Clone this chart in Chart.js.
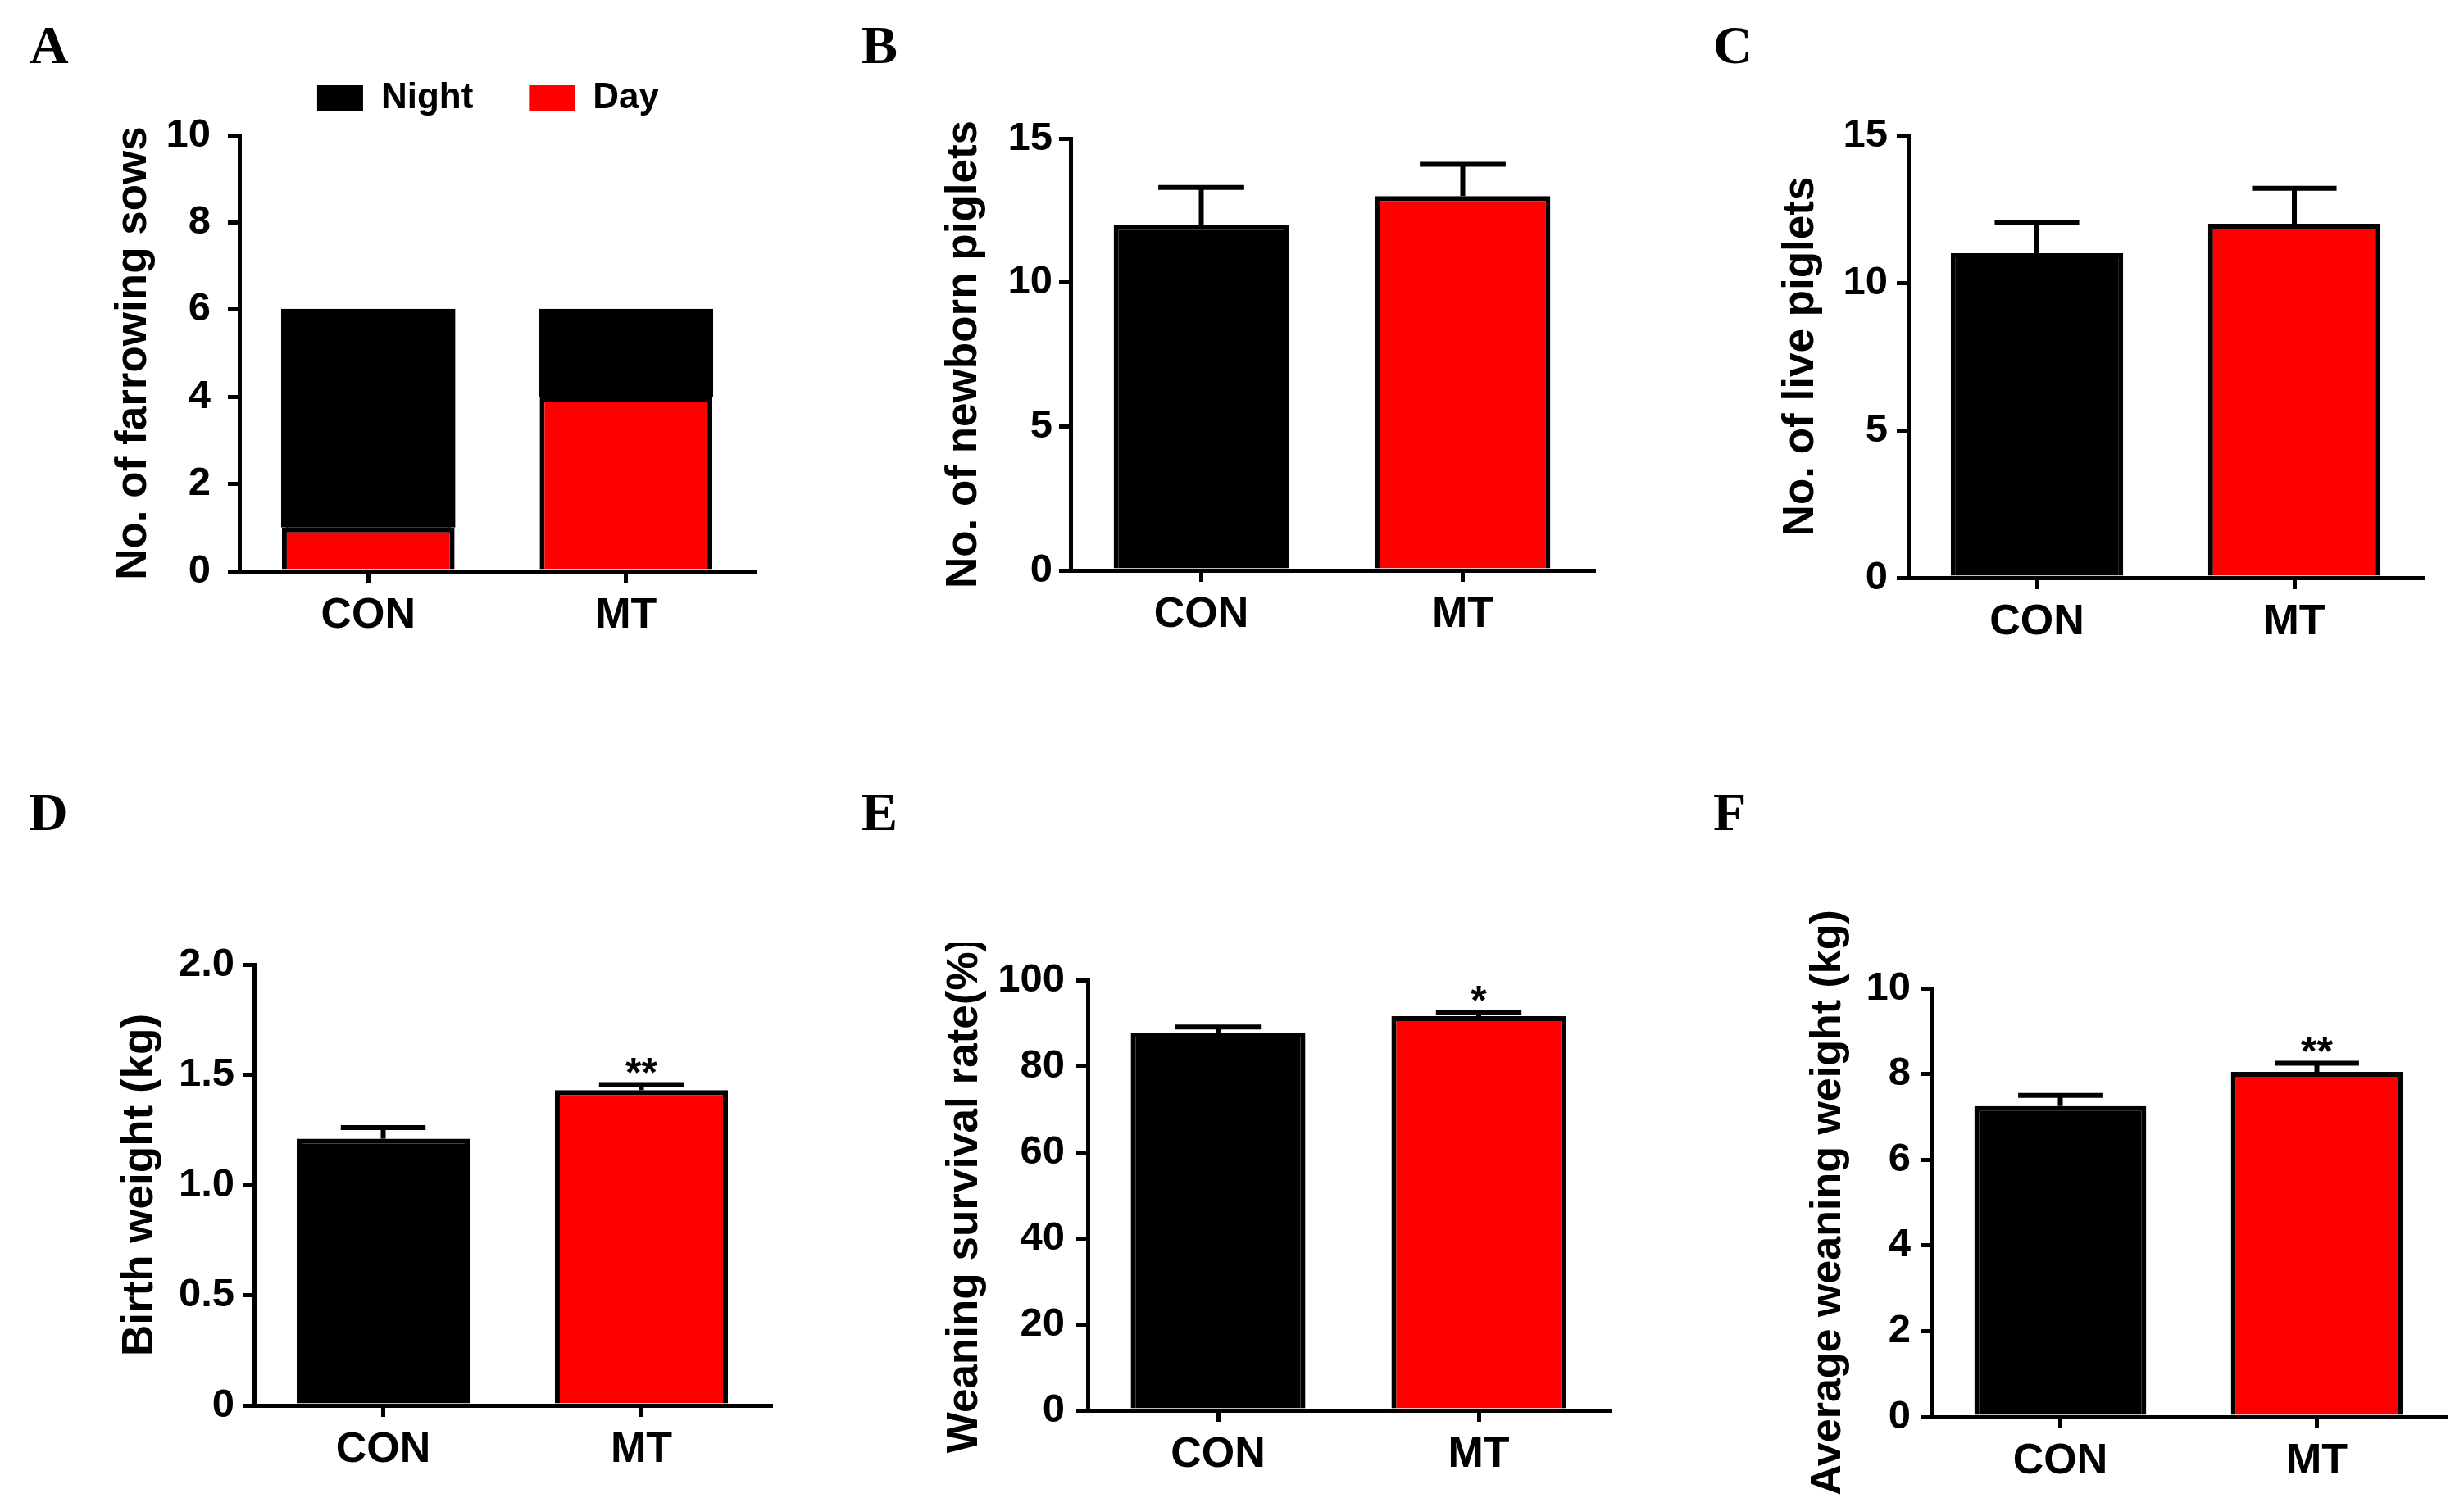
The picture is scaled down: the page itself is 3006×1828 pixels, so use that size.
<!DOCTYPE html>
<html lang="en">
<head>
<meta charset="UTF-8">
<title>Farrowing and piglet performance, CON vs MT</title>
<script src="https://cdn.jsdelivr.net/npm/chart.js@4.4.1/dist/chart.umd.min.js"></script>
<style>
  body { margin: 0; background: #fff; }
  #fig { position: relative; width: 3006px; height: 1828px; background: #fff; overflow: hidden; }
  #fig canvas { position: absolute; }
  .tag {
    position: absolute;
    font-family: 'Liberation Serif', 'Times New Roman', serif;
    font-weight: bold;
    font-size: 66px;
    line-height: 66px;
    color: #000;
  }
</style>
</head>
<body>
<div id="fig">
  <div class="tag" style="left:36px;top:22px">A</div>
  <div class="tag" style="left:1051px;top:22px">B</div>
  <div class="tag" style="left:2090px;top:22px">C</div>
  <div class="tag" style="left:35px;top:958px">D</div>
  <div class="tag" style="left:1051px;top:958px">E</div>
  <div class="tag" style="left:2090px;top:958px">F</div>
  <canvas id="chartA"></canvas>
  <canvas id="chartB"></canvas>
  <canvas id="chartC"></canvas>
  <canvas id="chartD"></canvas>
  <canvas id="chartE"></canvas>
  <canvas id="chartF"></canvas>
</div>
<script>
// ---- data ----
const groups = ['CON', 'MT'];

// A: farrowing sows by time of day
const sowsDay = [1, 4];
const sowsNight = [5, 2];
const ticksA = ['0', '2', '4', '6', '8', '10'];

// B: newborn piglets (mean, SEM)
const newborn = [12, 13];
const newbornSem = [1.3, 1.1];
const ticksB = ['0', '5', '10', '15'];

// C: live piglets
const live = [11, 12];
const liveSem = [1.05, 1.2];
const ticksC = ['0', '5', '10', '15'];

// D: birth weight (kg)
const birthWt = [1.21, 1.43];
const birthWtSem = [0.05, 0.025];
const birthWtStars = ['', '**'];
const ticksD = ['0', '0.5', '1.0', '1.5', '2.0'];

// E: weaning survival rate (%)
const survival = [87.8, 91.6];
const survivalSem = [1.3, 0.8];
const survivalStars = ['', '*'];
const ticksE = ['0', '20', '40', '60', '80', '100'];

// F: average weaning weight (kg)
const weanWt = [7.25, 8.05];
const weanWtSem = [0.25, 0.2];
const weanWtStars = ['', '**'];
const ticksF = ['0', '2', '4', '6', '8', '10'];

const barColors = ['#000000', '#ff0000'];

// ---- layout: plot area of each panel in page pixels ----
const FONT = '"Liberation Sans", Arial, sans-serif';
const boxes = {
  A: { l: 292, t: 165, r: 921, b: 697, yW: 160, tickPad: 21, padTop: 30, legendH: 135, titleSize: 53 },
  B: { l: 1306, t: 169, r: 1944, b: 696, yW: 161, tickPad: 8, padTop: 45, titleSize: 53 },
  C: { l: 2328, t: 165, r: 2956, b: 705, yW: 162, tickPad: 11, padTop: 45, titleSize: 53 },
  D: { l: 310, t: 1177, r: 940, b: 1715, yW: 170, tickPad: 10, padTop: 45, titleSize: 53 },
  E: { l: 1327, t: 1196, r: 1963, b: 1721, yW: 181, tickPad: 14, padTop: 45, titleSize: 53 },
  F: { l: 2357, t: 1206, r: 2983, b: 1729, yW: 158, tickPad: 12, padTop: 110, titleSize: 52 }
};
const X_H = 100, PAD_R = 20;

Chart.defaults.font.family = FONT;
Chart.defaults.color = '#000';

// error bars (upward only) and significance marks
const errBars = {
  id: 'errBars',
  afterDatasetsDraw(chart, args, opts) {
    if (!opts.sem) return;
    const ctx = chart.ctx;
    const y = chart.scales.y;
    const vals = chart.data.datasets[0].data;
    chart.getDatasetMeta(0).data.forEach((bar, i) => {
      const top = y.getPixelForValue(vals[i] + opts.sem[i]);
      const half = bar.width * 0.245;
      ctx.save();
      ctx.strokeStyle = '#000';
      ctx.lineWidth = 6;
      ctx.beginPath();
      ctx.moveTo(bar.x, bar.y);
      ctx.lineTo(bar.x, top);
      ctx.moveTo(bar.x - half, top);
      ctx.lineTo(bar.x + half, top);
      ctx.stroke();
      if (opts.stars && opts.stars[i]) {
        ctx.fillStyle = '#000';
        ctx.font = 'bold 50px ' + FONT;
        ctx.textAlign = 'center';
        ctx.textBaseline = 'alphabetic';
        ctx.fillText(opts.stars[i], bar.x, top + 2);
      }
      ctx.restore();
    });
  }
};
Chart.register(errBars);

// a little more room under the legend, and nudge the row left
const legendGap = {
  id: 'legendGap',
  beforeLayout(chart) {
    const lg = chart.legend;
    if (!lg || lg._gapWrapped) return;
    const fit = lg.fit;
    lg.fit = function () {
      fit.call(this);
      this.height += 13;
      if (this.lineWidths) this.lineWidths[0] += 22;
    };
    lg._gapWrapped = true;
  }
};

function yAxis(box, max, step, labels, title, stacked) {
  return {
    stacked: !!stacked,
    min: 0,
    max: max,
    ticks: {
      stepSize: step,
      padding: box.tickPad,
      color: '#000',
      font: { family: FONT, weight: 'bold', size: 49 },
      callback: (v, i) => labels[i]
    },
    grid: {
      display: true, drawOnChartArea: false, drawTicks: true,
      tickLength: 14, tickWidth: 5, tickColor: '#000', color: '#000', lineWidth: 5
    },
    border: { display: true, color: '#000', width: 5 },
    title: {
      display: true, text: title, color: '#000', padding: 0,
      font: { family: FONT, weight: 'bold', size: box.titleSize }
    },
    afterFit: s => { s.width = box.yW; }
  };
}

function xAxis(stacked) {
  return {
    stacked: !!stacked,
    ticks: { padding: 9, color: '#000', font: { family: FONT, weight: 'bold', size: 52 } },
    grid: {
      display: true, offset: false, drawOnChartArea: false, drawTicks: true,
      tickLength: 14, tickWidth: 5, tickColor: '#000', color: '#000', lineWidth: 5
    },
    border: { display: true, color: '#000', width: 5 },
    afterFit: s => { s.height = X_H; }
  };
}

function place(id, box) {
  const cv = document.getElementById(id);
  const left = box.l - box.yW;
  const top = box.t - box.padTop - (box.legendH || 0);
  const w = box.r + PAD_R - left;
  const h = box.b + X_H - top;
  cv.width = w; cv.height = h;
  cv.style.left = left + 'px';
  cv.style.top = top + 'px';
  cv.style.width = w + 'px';
  cv.style.height = h + 'px';
  return cv;
}

function baseOptions(box) {
  return {
    responsive: false,
    animation: false,
    devicePixelRatio: 1,
    events: [],
    layout: { padding: { top: box.padTop, right: PAD_R, left: 0, bottom: 0 } },
    plugins: { legend: { display: false }, tooltip: { enabled: false } }
  };
}

function barPanel(id, box, values, sem, stars, max, step, labels, title) {
  const opts = baseOptions(box);
  opts.scales = { x: xAxis(), y: yAxis(box, max, step, labels, title) };
  opts.plugins.errBars = { sem: sem, stars: stars };
  return new Chart(place(id, box), {
    type: 'bar',
    data: {
      labels: groups,
      datasets: [{
        data: values,
        backgroundColor: barColors,
        borderColor: '#000',
        borderWidth: 6,
        barPercentage: 0.67,
        categoryPercentage: 1
      }]
    },
    options: opts
  });
}

// A: stacked day / night
(function () {
  const box = boxes.A;
  const opts = baseOptions(box);
  opts.scales = { x: xAxis(true), y: yAxis(box, 10, 2, ticksA, 'No. of farrowing sows', true) };
  opts.plugins.legend = {
    display: true,
    position: 'top',
    fullSize: false,
    reverse: true,
    labels: {
      boxWidth: 56,
      boxHeight: 32,
      padding: 68,
      color: '#000',
      font: { family: FONT, weight: 'bold', size: 44 },
      generateLabels: chart => Chart.defaults.plugins.legend.labels.generateLabels(chart)
        .map(item => Object.assign(item, { lineWidth: 0 }))
    }
  };
  new Chart(place('chartA', box), {
    type: 'bar',
    data: {
      labels: groups,
      datasets: [
        { label: 'Day', data: sowsDay, backgroundColor: '#ff0000', borderColor: '#000',
          borderWidth: 6, barPercentage: 0.67, categoryPercentage: 1 },
        { label: 'Night', data: sowsNight, backgroundColor: '#000000', borderColor: '#000',
          borderWidth: 6, inflateAmount: 1, barPercentage: 0.67, categoryPercentage: 1 }
      ]
    },
    options: opts,
    plugins: [legendGap]
  });
})();

barPanel('chartB', boxes.B, newborn, newbornSem, null, 15, 5, ticksB, 'No. of newborn piglets');
barPanel('chartC', boxes.C, live, liveSem, null, 15, 5, ticksC, 'No. of live piglets');
barPanel('chartD', boxes.D, birthWt, birthWtSem, birthWtStars, 2, 0.5, ticksD, 'Birth weight (kg)');
barPanel('chartE', boxes.E, survival, survivalSem, survivalStars, 100, 20, ticksE, 'Weaning survival rate(%)');
barPanel('chartF', boxes.F, weanWt, weanWtSem, weanWtStars, 10, 2, ticksF, 'Average weaning weight (kg)');
</script>
</body>
</html>
